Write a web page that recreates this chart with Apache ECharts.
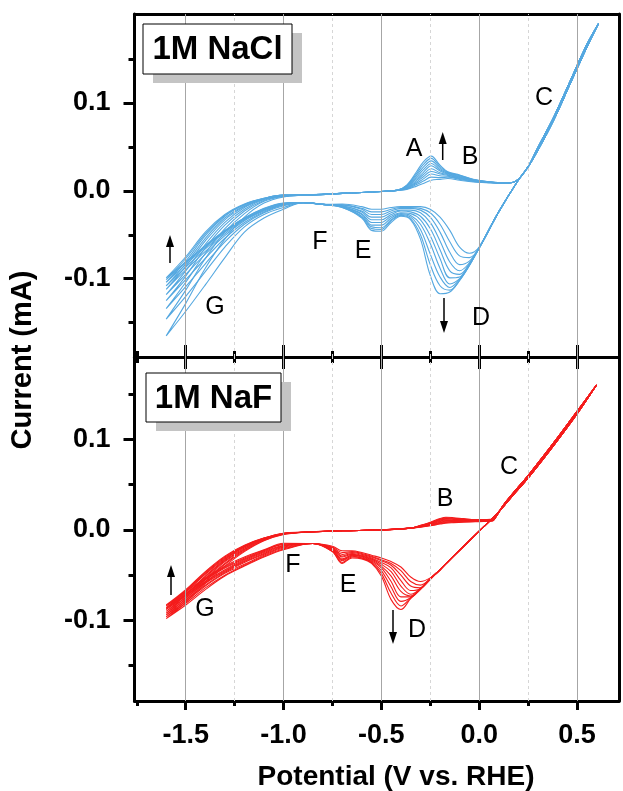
<!DOCTYPE html>
<html>
<head>
<meta charset="utf-8">
<script src="https://cdn.jsdelivr.net/npm/echarts@6/dist/echarts.min.js"></script>
<style>html,body{margin:0;padding:0;background:#fff}#c{width:623px;height:791px}</style>
</head>
<body>
<div id="c"></div>
<script>
// ---------- axes ----------
const X_MIN = -1.762, X_MAX = 0.715;
const xMajor = [-1.5, -1.0, -0.5, 0.0, 0.5];
const xMinor = [-1.75, -1.25, -0.75, -0.25, 0.25];
const yMajor = [-0.1, 0.0, 0.1];
const yMinor = [-0.15, -0.05, 0.05, 0.15];
const topYMin = -0.189, topYMax = 0.201;
const botYMin = -0.189, botYMax = 0.191;

// ---------- 1M NaCl (top panel) ----------
const naclAnoG_V = [-1.6, -1.5, -1.4, -1.3, -1.2, -1.1, -1.0];
const naclAnoG_I = [
  [-0.165, -0.128, -0.088, -0.055, -0.030, -0.014, -0.007],
  [-0.146, -0.113, -0.077, -0.047, -0.026, -0.012, -0.0065],
  [-0.134, -0.104, -0.071, -0.043, -0.023, -0.011, -0.006],
  [-0.125, -0.097, -0.065, -0.039, -0.021, -0.010, -0.006],
  [-0.118, -0.091, -0.061, -0.036, -0.019, -0.0095, -0.0055],
  [-0.112, -0.086, -0.057, -0.033, -0.018, -0.009, -0.0055],
  [-0.108, -0.083, -0.054, -0.031, -0.017, -0.009, -0.005],
  [-0.104, -0.080, -0.051, -0.029, -0.016, -0.0088, -0.005],
  [-0.101, -0.077, -0.049, -0.028, -0.0155, -0.0086, -0.005],
  [-0.099, -0.075, -0.047, -0.027, -0.015, -0.0085, -0.005]
];
const naclAnoMid_V = [-0.9, -0.7, -0.5, -0.42];
const naclAnoMid_I = [-0.005, -0.003, -0.0008, 0.0005];
const naclA_V = [-0.37, -0.32, -0.285, -0.245, -0.2, -0.16, -0.1, -0.03, 0.06, 0.12];
const naclA_I = [
  [0.0016, 0.0053, 0.0084, 0.012, 0.013, 0.014, 0.012, 0.010, 0.009, 0.0085],
  [0.002, 0.007, 0.011, 0.0155, 0.015, 0.0155, 0.013, 0.0105, 0.0092, 0.0086],
  [0.0025, 0.0085, 0.0135, 0.019, 0.017, 0.0165, 0.0138, 0.011, 0.0094, 0.0087],
  [0.003, 0.010, 0.016, 0.022, 0.019, 0.0175, 0.0145, 0.0113, 0.0095, 0.0087],
  [0.0035, 0.0118, 0.0185, 0.025, 0.0205, 0.0183, 0.015, 0.0117, 0.0096, 0.0088],
  [0.004, 0.0135, 0.021, 0.0285, 0.0225, 0.019, 0.0157, 0.012, 0.0097, 0.0088],
  [0.0048, 0.0155, 0.024, 0.031, 0.024, 0.0198, 0.0163, 0.0123, 0.0098, 0.0089],
  [0.0053, 0.0175, 0.027, 0.034, 0.0255, 0.0205, 0.017, 0.0126, 0.0099, 0.0089],
  [0.006, 0.0195, 0.030, 0.0368, 0.0272, 0.021, 0.0175, 0.0128, 0.0099, 0.009],
  [0.0065, 0.0216, 0.033, 0.0394, 0.029, 0.0216, 0.018, 0.013, 0.010, 0.009]
];
const naclAnoC_V = [0.17, 0.2, 0.23, 0.26, 0.3, 0.38, 0.46, 0.55, 0.61];
const naclAnoC_I = [0.0095, 0.013, 0.021, 0.031, 0.049, 0.083, 0.122, 0.166, 0.190];
const naclCatC_V = [0.55, 0.46, 0.38, 0.3, 0.25, 0.2, 0.1];
const naclCatC_I = [0.163, 0.119, 0.080, 0.046, 0.027, 0.012, -0.024];
const naclD_V = [0.0, -0.05, -0.1, -0.15, -0.2, -0.25, -0.3, -0.35, -0.4, -0.45, -0.5, -0.55, -0.6, -0.7];
const naclD_I = [
  [-0.064, -0.071, -0.064, -0.045, -0.030, -0.021, -0.018, -0.018, -0.018, -0.019, -0.021, -0.021, -0.018, -0.015],
  [-0.065, -0.076, -0.074, -0.058, -0.038, -0.025, -0.020, -0.019, -0.019, -0.021, -0.024, -0.024, -0.020, -0.016],
  [-0.065, -0.080, -0.084, -0.070, -0.047, -0.030, -0.022, -0.020, -0.020, -0.023, -0.027, -0.027, -0.021, -0.016],
  [-0.065, -0.082, -0.091, -0.081, -0.057, -0.036, -0.025, -0.022, -0.022, -0.025, -0.030, -0.030, -0.023, -0.017],
  [-0.065, -0.083, -0.095, -0.091, -0.067, -0.043, -0.029, -0.024, -0.023, -0.027, -0.033, -0.033, -0.024, -0.017],
  [-0.065, -0.084, -0.098, -0.099, -0.077, -0.051, -0.033, -0.026, -0.025, -0.029, -0.036, -0.036, -0.026, -0.018],
  [-0.065, -0.084, -0.100, -0.106, -0.088, -0.060, -0.038, -0.028, -0.026, -0.031, -0.039, -0.039, -0.027, -0.018],
  [-0.065, -0.085, -0.101, -0.110, -0.098, -0.072, -0.044, -0.030, -0.027, -0.033, -0.042, -0.041, -0.029, -0.018],
  [-0.065, -0.085, -0.102, -0.113, -0.108, -0.084, -0.050, -0.032, -0.028, -0.034, -0.044, -0.043, -0.030, -0.019],
  [-0.065, -0.085, -0.102, -0.115, -0.117, -0.096, -0.055, -0.033, -0.029, -0.036, -0.046, -0.045, -0.031, -0.019]
];
const naclCatMid_V = [-0.8, -0.9];
const naclCatMid_I = [-0.0155, -0.0135];
const naclCatG_V = [-1.0, -1.1, -1.2, -1.3, -1.4, -1.5, -1.6];
const naclCatG_I = [
  [-0.021, -0.031, -0.047, -0.076, -0.107, -0.137, -0.165],
  [-0.019, -0.027, -0.041, -0.064, -0.092, -0.120, -0.146],
  [-0.017, -0.025, -0.038, -0.058, -0.083, -0.109, -0.134],
  [-0.016, -0.024, -0.036, -0.054, -0.077, -0.101, -0.125],
  [-0.0155, -0.023, -0.034, -0.051, -0.072, -0.095, -0.118],
  [-0.015, -0.022, -0.033, -0.049, -0.069, -0.090, -0.112],
  [-0.0148, -0.0215, -0.032, -0.047, -0.066, -0.087, -0.108],
  [-0.0145, -0.021, -0.0315, -0.046, -0.064, -0.084, -0.104],
  [-0.0142, -0.0205, -0.031, -0.0455, -0.063, -0.082, -0.101],
  [-0.014, -0.020, -0.031, -0.045, -0.062, -0.081, -0.099]
];

// ---------- 1M NaF (bottom panel) ----------
const nafAnoG_V = [-1.6, -1.5, -1.4, -1.3, -1.2, -1.1, -1.0];
const nafAnoG_I = [
  [-0.098, -0.080, -0.059, -0.040, -0.024, -0.012, -0.005],
  [-0.096, -0.078, -0.057, -0.038, -0.023, -0.0115, -0.0048],
  [-0.094, -0.076, -0.055, -0.037, -0.022, -0.011, -0.0046],
  [-0.092, -0.074, -0.054, -0.035, -0.021, -0.0105, -0.0044],
  [-0.090, -0.072, -0.052, -0.034, -0.020, -0.010, -0.0042],
  [-0.088, -0.071, -0.051, -0.033, -0.019, -0.0098, -0.0041],
  [-0.087, -0.069, -0.049, -0.032, -0.0185, -0.0095, -0.004],
  [-0.086, -0.068, -0.048, -0.031, -0.018, -0.0093, -0.0039],
  [-0.084, -0.067, -0.047, -0.030, -0.0175, -0.0091, -0.0038],
  [-0.083, -0.066, -0.046, -0.029, -0.017, -0.009, -0.0037]
];
const nafAnoMid_V = [-0.9, -0.7, -0.5, -0.35];
const nafAnoMid_I = [-0.0026, -0.001, 0.0, 0.002];
const nafB_V = [-0.3, -0.25, -0.2, -0.17, -0.13, -0.08, -0.02, 0.04, 0.07];
const nafB_I = [
  [0.003, 0.0045, 0.0065, 0.0075, 0.008, 0.0085, 0.009, 0.0095, 0.010],
  [0.0032, 0.0049, 0.0072, 0.0082, 0.0086, 0.009, 0.0093, 0.0097, 0.0102],
  [0.0034, 0.0053, 0.0079, 0.0089, 0.0092, 0.0094, 0.0096, 0.0099, 0.0104],
  [0.0036, 0.0057, 0.0085, 0.0096, 0.0098, 0.0099, 0.0099, 0.0101, 0.0106],
  [0.0038, 0.0062, 0.0092, 0.0104, 0.0104, 0.0103, 0.0102, 0.0104, 0.0108],
  [0.004, 0.0066, 0.0099, 0.0111, 0.0110, 0.0107, 0.0105, 0.0106, 0.011],
  [0.0043, 0.0071, 0.0106, 0.0119, 0.0116, 0.0111, 0.0108, 0.0108, 0.0112],
  [0.0045, 0.0075, 0.0112, 0.0126, 0.0123, 0.0116, 0.0110, 0.0110, 0.0115],
  [0.0048, 0.0080, 0.0119, 0.0133, 0.0129, 0.0120, 0.0113, 0.0113, 0.0117],
  [0.005, 0.0085, 0.0125, 0.014, 0.0135, 0.0125, 0.0115, 0.0115, 0.012]
];
const nafAnoC_V = [0.09, 0.12, 0.16, 0.26, 0.38, 0.5, 0.6];
const nafAnoC_I = [0.016, 0.026, 0.037, 0.0626, 0.0958, 0.1307, 0.160];
const nafCatC_V = [0.5, 0.38, 0.26, 0.16, 0.1, 0.04, -0.05, -0.15];
const nafCatC_I = [0.128, 0.093, 0.060, 0.035, 0.020, 0.007, -0.012, -0.033];
const nafD_V = [-0.2, -0.25, -0.3, -0.35, -0.4, -0.45, -0.5, -0.55, -0.6, -0.65, -0.7, -0.75];
const nafD_I = [
  [-0.044, -0.053, -0.057, -0.052, -0.041, -0.035, -0.031, -0.028, -0.025, -0.023, -0.023, -0.018],
  [-0.044, -0.054, -0.061, -0.057, -0.045, -0.037, -0.033, -0.029, -0.026, -0.024, -0.025, -0.019],
  [-0.044, -0.054, -0.064, -0.062, -0.050, -0.039, -0.034, -0.030, -0.027, -0.025, -0.027, -0.020],
  [-0.044, -0.054, -0.065, -0.067, -0.056, -0.042, -0.036, -0.031, -0.028, -0.026, -0.029, -0.020],
  [-0.044, -0.054, -0.065, -0.071, -0.062, -0.046, -0.038, -0.032, -0.029, -0.027, -0.030, -0.021],
  [-0.044, -0.054, -0.065, -0.073, -0.068, -0.051, -0.040, -0.033, -0.029, -0.028, -0.032, -0.022],
  [-0.044, -0.054, -0.065, -0.074, -0.074, -0.057, -0.042, -0.034, -0.030, -0.028, -0.033, -0.022],
  [-0.044, -0.054, -0.065, -0.075, -0.079, -0.063, -0.045, -0.035, -0.031, -0.029, -0.034, -0.023],
  [-0.044, -0.054, -0.065, -0.075, -0.084, -0.070, -0.048, -0.036, -0.031, -0.030, -0.036, -0.024],
  [-0.044, -0.055, -0.066, -0.076, -0.088, -0.077, -0.051, -0.037, -0.032, -0.031, -0.037, -0.024]
];
const nafCatMid_V = [-0.85];
const nafCatMid_I = [-0.015];
const nafCatG_V = [-1.0, -1.1, -1.2, -1.3, -1.4, -1.5, -1.6];
const nafCatG_I = [
  [-0.022, -0.030, -0.040, -0.051, -0.066, -0.083, -0.098],
  [-0.021, -0.029, -0.039, -0.050, -0.064, -0.081, -0.096],
  [-0.020, -0.028, -0.038, -0.048, -0.062, -0.079, -0.094],
  [-0.019, -0.027, -0.036, -0.047, -0.061, -0.077, -0.092],
  [-0.018, -0.026, -0.035, -0.046, -0.059, -0.075, -0.090],
  [-0.0175, -0.025, -0.034, -0.045, -0.058, -0.073, -0.088],
  [-0.017, -0.024, -0.033, -0.044, -0.057, -0.072, -0.087],
  [-0.016, -0.023, -0.032, -0.042, -0.055, -0.071, -0.086],
  [-0.0155, -0.0225, -0.031, -0.041, -0.054, -0.070, -0.084],
  [-0.0147, -0.022, -0.030, -0.040, -0.053, -0.068, -0.083]
];

// ---------- build ----------
function pairs(V, I) { return V.map((v, i) => [v, I[i]]); }
function buildLoops(segs, n) {
  const loops = [];
  for (let k = 0; k < n; k++) {
    let d = [];
    segs.forEach(s => { d = d.concat(pairs(s[0], Array.isArray(s[1][0]) ? s[1][k] : s[1])); });
    loops.push(d);
  }
  return loops;
}
const naclLoops = buildLoops([
  [naclAnoG_V, naclAnoG_I], [naclAnoMid_V, naclAnoMid_I], [naclA_V, naclA_I],
  [naclAnoC_V, naclAnoC_I], [naclCatC_V, naclCatC_I], [naclD_V, naclD_I],
  [naclCatMid_V, naclCatMid_I], [naclCatG_V, naclCatG_I]
], naclAnoG_I.length);
const nafLoops = buildLoops([
  [nafAnoG_V, nafAnoG_I], [nafAnoMid_V, nafAnoMid_I], [nafB_V, nafB_I],
  [nafAnoC_V, nafAnoC_I], [nafCatC_V, nafCatC_I], [nafD_V, nafD_I],
  [nafCatMid_V, nafCatMid_I], [nafCatG_V, nafCatG_I]
], nafAnoG_I.length);

const BLUE = '#55a8e0', RED = '#f41c1c';
const FONT = '"Liberation Sans", Arial, sans-serif';
const G0 = { left: 134.5, width: 484.5, top: 14, height: 343 };
const G1 = { left: 134.5, width: 484.5, top: 357, height: 344 };

function xAxisDef(grid, pos, ticks, len, inside, showLine, labels) {
  return {
    type: 'value', gridIndex: grid, position: pos, min: X_MIN, max: X_MAX,
    axisLine: { show: showLine, onZero: false, lineStyle: { color: '#000', width: 3 } },
    axisTick: { show: ticks.length > 0, inside: inside, length: len, customValues: ticks, lineStyle: { color: '#000', width: 3 } },
    axisLabel: labels ? { show: true, customValues: xMajor, margin: 21, color: '#000', fontFamily: FONT, fontWeight: 'bold', fontSize: 27, formatter: v => v.toFixed(1) } : { show: false },
    splitLine: { show: false }
  };
}
function yAxisDef(grid, pos, ymin, ymax, ticks, len, showLine, labels) {
  return {
    type: 'value', gridIndex: grid, position: pos, min: ymin, max: ymax,
    axisLine: { show: showLine, onZero: false, lineStyle: { color: '#000', width: 3 } },
    axisTick: { show: ticks.length > 0, inside: false, length: len, customValues: ticks, lineStyle: { color: '#000', width: 3 } },
    axisLabel: labels ? { show: true, customValues: yMajor, margin: 24, color: '#000', fontFamily: FONT, fontWeight: 'bold', fontSize: 27, formatter: v => v.toFixed(1) } : { show: false },
    splitLine: { show: false }
  };
}

const xAxes = [
  xAxisDef(0, 'bottom', xMajor, 12, true, true, false),   // 0
  xAxisDef(0, 'bottom', xMinor, 6, true, false, false),   // 1
  xAxisDef(0, 'top', [], 0, true, true, false),           // 2
  xAxisDef(1, 'top', xMajor, 12, true, true, false),      // 3
  xAxisDef(1, 'top', xMinor, 6, true, false, false),      // 4
  xAxisDef(1, 'bottom', xMajor, 9, false, true, true),    // 5
  xAxisDef(1, 'bottom', xMinor, 5, false, false, false)   // 6
];
const yAxes = [
  yAxisDef(0, 'left', topYMin, topYMax, yMajor, 11, true, true),   // 0
  yAxisDef(0, 'left', topYMin, topYMax, yMinor, 6, false, false),  // 1
  yAxisDef(0, 'right', topYMin, topYMax, [], 0, true, false),      // 2
  yAxisDef(1, 'left', botYMin, botYMax, yMajor, 11, true, true),   // 3
  yAxisDef(1, 'left', botYMin, botYMax, yMinor, 6, false, false),  // 4
  yAxisDef(1, 'right', botYMin, botYMax, [], 0, true, false)       // 5
];

function gridLineSeries(xi, yi) {
  return {
    type: 'line', xAxisIndex: xi, yAxisIndex: yi, data: [], z: 1, silent: true,
    markLine: {
      silent: true, symbol: ['none', 'none'], label: { show: false }, animation: false,
      data: xMajor.map(v => ({ xAxis: v, lineStyle: { color: '#a6a6a6', width: 1, type: 'solid' } }))
        .concat(xMinor.filter(v => v > X_MIN + 0.05).map(v => ({ xAxis: v, lineStyle: { color: '#d6d6d6', width: 1, type: [3, 3] } })))
    }
  };
}

const series = [gridLineSeries(0, 0), gridLineSeries(5, 3)];
naclLoops.forEach(d => series.push({ type: 'line', xAxisIndex: 0, yAxisIndex: 0, data: d, symbol: 'none', smooth: 0.35, lineStyle: { color: BLUE, width: 1.1 }, silent: true, z: 3 }));
nafLoops.forEach(d => series.push({ type: 'line', xAxisIndex: 5, yAxisIndex: 3, data: d, symbol: 'none', smooth: 0.35, lineStyle: { color: RED, width: 1.1 }, silent: true, z: 3 }));

// ---------- annotations ----------
function letter(t, x, y) {
  return { type: 'text', x: x, y: y, z: 20, style: { text: t, fill: '#000', font: '25px ' + FONT, align: 'center', verticalAlign: 'middle' } };
}
function arrow(x, yTail, yTip) {
  const dir = yTip < yTail ? 1 : -1;
  const base = yTip + dir * 12;
  return [
    { type: 'line', z: 20, shape: { x1: x, y1: yTail, x2: x, y2: base }, style: { stroke: '#000', lineWidth: 1.5 } },
    { type: 'polygon', z: 20, shape: { points: [[x - 4, base], [x + 4, base], [x, yTip]] }, style: { fill: '#000' } }
  ];
}
function panelLabel(t, x1, y1, x2, y2) {
  return [
    { type: 'rect', z: 18, shape: { x: x1 + 10, y: y1 + 9, width: x2 - x1, height: y2 - y1 }, style: { fill: '#c4c4c4' } },
    { type: 'rect', z: 19, shape: { x: x1, y: y1, width: x2 - x1, height: y2 - y1 }, style: { fill: '#fff', stroke: '#000', lineWidth: 1 } },
    { type: 'text', z: 20, x: (x1 + x2) / 2, y: (y1 + y2) / 2 + 1, style: { text: t, fill: '#000', font: 'bold 33px ' + FONT, align: 'center', verticalAlign: 'middle' } }
  ];
}

const graphics = [].concat(
  panelLabel('1M NaCl', 143, 24, 292, 74),
  panelLabel('1M NaF', 146, 373, 281, 422),
  [letter('A', 414, 149), letter('B', 470, 157), letter('C', 544, 98), letter('D', 481, 318),
   letter('E', 363, 251), letter('F', 320, 242), letter('G', 215, 307)],
  arrow(442.7, 160, 132), arrow(444, 298, 333), arrow(170, 263, 235),
  [letter('B', 445, 499), letter('C', 509, 467), letter('D', 417, 630), letter('E', 348, 585),
   letter('F', 293, 565), letter('G', 205, 609)],
  arrow(393, 610, 644), arrow(171, 595, 565),
  [
    { type: 'text', z: 20, x: 396, y: 777, style: { text: 'Potential (V vs. RHE)', fill: '#000', font: 'bold 28px ' + FONT, align: 'center', verticalAlign: 'middle' } },
    { type: 'text', z: 20, x: 22.5, y: 360, rotation: Math.PI / 2, style: { text: 'Current (mA)', fill: '#000', font: 'bold 29px ' + FONT, align: 'center', verticalAlign: 'middle' } }
  ]
);

const chart = echarts.init(document.getElementById('c'), null, { renderer: 'canvas' });
chart.setOption({
  animation: false,
  backgroundColor: '#fff',
  grid: [G0, G1],
  xAxis: xAxes,
  yAxis: yAxes,
  series: series,
  graphic: graphics
});
</script>
</body>
</html>
